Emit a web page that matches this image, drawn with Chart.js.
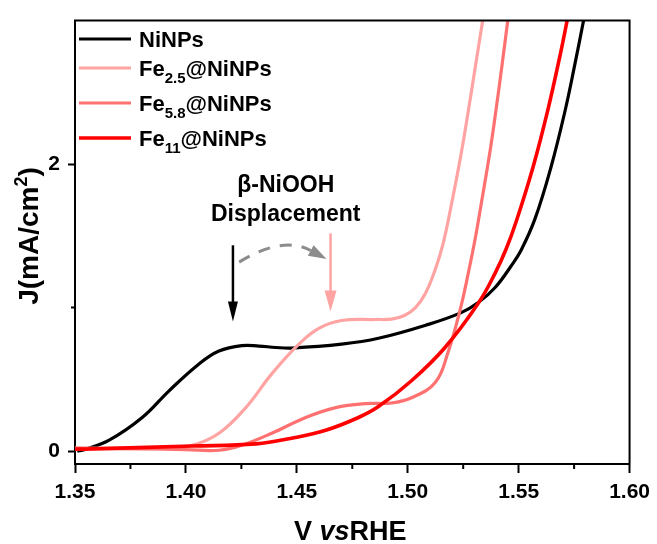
<!DOCTYPE html>
<html>
<head>
<meta charset="utf-8">
<script src="https://cdn.jsdelivr.net/npm/chart.js@4"></script>
<style>
  body { margin: 0; background: #fff; }
  #wrap { width: 657px; height: 544px; }
</style>
</head>
<body>
<div id="wrap"><canvas id="lsv" width="657" height="544"></canvas></div>
<script>
// Polarization curves (J vs potential)
const xTicks = [1.35, 1.40, 1.45, 1.50, 1.55, 1.60];
const xMinorTicks = [1.375, 1.425, 1.475, 1.525, 1.575];
const yTicks = [0, 2];
const yMinorTicks = [1];

const niV = [1.351, 1.3542, 1.3654, 1.3803, 1.3924, 1.4059, 1.4149, 1.4252, 1.4329, 1.4405, 1.4477, 1.4702, 1.4868, 1.5093, 1.5241, 1.5318, 1.5394, 1.5466, 1.5511, 1.5574, 1.5646, 1.5709, 1.5754, 1.579, 1.5805];
const niJ = [0.0, 0.01, 0.076, 0.234, 0.42, 0.607, 0.697, 0.735, 0.732, 0.722, 0.718, 0.745, 0.786, 0.883, 0.965, 1.035, 1.14, 1.29, 1.40, 1.62, 1.98, 2.37, 2.70, 2.98, 3.1];

const fe25V = [1.35, 1.37, 1.39, 1.4027, 1.4149, 1.427, 1.4387, 1.4509, 1.4599, 1.4702, 1.4855, 1.4927, 1.4985, 1.5035, 1.508, 1.5125, 1.516, 1.5192, 1.5237, 1.5273, 1.5309, 1.5345];
const fe25J = [0.02, 0.02, 0.024, 0.04, 0.124, 0.303, 0.538, 0.745, 0.855, 0.91, 0.917, 0.92, 0.945, 1.0, 1.10, 1.27, 1.45, 1.68, 2.04, 2.37, 2.72, 3.07];

const fe58V = [1.35, 1.38, 1.40, 1.4149, 1.4252, 1.4387, 1.454, 1.4675, 1.481, 1.4927, 1.5017, 1.5125, 1.518, 1.5237, 1.5273, 1.5304, 1.5331, 1.5372, 1.5399, 1.5426, 1.5455];
const fe58J = [0.02, 0.015, 0.01, 0.006, 0.041, 0.124, 0.234, 0.303, 0.331, 0.335, 0.372, 0.48, 0.68, 0.99, 1.24, 1.48, 1.72, 2.10, 2.39, 2.70, 3.05];

const fe11V = [1.35, 1.3542, 1.4027, 1.4316, 1.4477, 1.463, 1.4778, 1.4868, 1.5017, 1.5167, 1.5318, 1.5394, 1.5444, 1.5489, 1.5565, 1.5632, 1.5687, 1.5725];
const fe11J = [0.014, 0.014, 0.035, 0.05, 0.09, 0.145, 0.234, 0.31, 0.49, 0.72, 1.03, 1.24, 1.41, 1.60, 1.98, 2.38, 2.76, 3.05];

const seriesLabels = ['NiNPs', 'Fe2.5@NiNPs', 'Fe5.8@NiNPs', 'Fe11@NiNPs'];
// legend text split as [main, subscript, tail]
const legendParts = [['NiNPs', '', ''], ['Fe', '2.5', '@NiNPs'], ['Fe', '5.8', '@NiNPs'], ['Fe', '11', '@NiNPs']];
const seriesColors = ['#000000', '#ffa3a3', '#ff7070', '#ff0000'];
const seriesWidths = [3.2, 3.2, 3.2, 3.6];

const FONT = "'Liberation Sans', Arial, sans-serif";

function toPoints(xs, ys) {
    return xs.map((x, i) => ({ x: x, y: ys[i] }));
}

const seriesData = [
    toPoints(niV, niJ),
    toPoints(fe25V, fe25J),
    toPoints(fe58V, fe58J),
    toPoints(fe11V, fe11J)
];

// Frame, minor ticks, legend, axis titles and the displacement arrows
const decorations = {
    id: 'decorations',
    afterDraw(chart) {
        const ctx = chart.ctx;
        const area = chart.chartArea;
        const xs = chart.scales.x;
        const ys = chart.scales.y;
        ctx.save();

        // top and right spines
        ctx.strokeStyle = '#000';
        ctx.lineWidth = 2;
        ctx.beginPath();
        ctx.moveTo(area.left - 1, area.top);
        ctx.lineTo(area.right, area.top);
        ctx.lineTo(area.right, area.bottom + 1);
        ctx.stroke();

        // minor ticks
        ctx.beginPath();
        xMinorTicks.forEach(v => {
            const px = xs.getPixelForValue(v);
            ctx.moveTo(px, area.bottom);
            ctx.lineTo(px, area.bottom + 5);
        });
        yMinorTicks.forEach(v => {
            const py = ys.getPixelForValue(v);
            ctx.moveTo(area.left, py);
            ctx.lineTo(area.left - 4, py);
        });
        ctx.stroke();

        // legend
        const baselines = [47, 76, 111, 146];
        ctx.textBaseline = 'alphabetic';
        ctx.textAlign = 'left';
        legendParts.forEach((parts, i) => {
            const b = baselines[i];
            ctx.strokeStyle = seriesColors[i];
            ctx.lineWidth = seriesWidths[i];
            ctx.beginPath();
            ctx.moveTo(79, b - 8);
            ctx.lineTo(131, b - 8);
            ctx.stroke();
            ctx.fillStyle = '#000';
            let tx = 139;
            ctx.font = 'bold 22px ' + FONT;
            ctx.fillText(parts[0], tx, b);
            tx += ctx.measureText(parts[0]).width;
            if (parts[1]) {
                ctx.font = 'bold 15px ' + FONT;
                ctx.fillText(parts[1], tx, b + 7);
                tx += ctx.measureText(parts[1]).width;
                ctx.font = 'bold 22px ' + FONT;
                ctx.fillText(parts[2], tx, b);
            }
        });

        // x axis title: V vsRHE
        ctx.fillStyle = '#000';
        const xt = [['V ', 'bold '], ['vs', 'italic bold '], ['RHE', 'bold ']];
        let total = 0;
        xt.forEach(p => { ctx.font = p[1] + '27px ' + FONT; total += ctx.measureText(p[0]).width; });
        let cx = (area.left + area.right) / 2 - 2 - total / 2;
        xt.forEach(p => {
            ctx.font = p[1] + '27px ' + FONT;
            ctx.fillText(p[0], cx, 540);
            cx += ctx.measureText(p[0]).width;
        });

        // y axis title: J(mA/cm²)
        ctx.save();
        ctx.translate(38, 236);
        ctx.rotate(-Math.PI / 2);
        ctx.font = 'bold 28px ' + FONT;
        const a = 'J(mA/cm', c = ')';
        const wa = ctx.measureText(a).width;
        const wc = ctx.measureText(c).width;
        ctx.font = 'bold 18px ' + FONT;
        const wb = ctx.measureText('2').width;
        let sx = -(wa + wb + wc) / 2;
        ctx.font = 'bold 28px ' + FONT;
        ctx.fillText(a, sx, 0);
        sx += wa;
        ctx.font = 'bold 18px ' + FONT;
        ctx.fillText('2', sx, -11);
        sx += wb;
        ctx.font = 'bold 28px ' + FONT;
        ctx.fillText(c, sx, 0);
        ctx.restore();

        // annotation text
        ctx.textAlign = 'center';
        ctx.textBaseline = 'middle';
        ctx.font = 'bold 23px ' + FONT;
        ctx.fillText('\u03b2-NiOOH', xs.getPixelForValue(1.445), ys.getPixelForValue(1.848));
        ctx.fillText('Displacement', xs.getPixelForValue(1.445), ys.getPixelForValue(1.648));

        // vertical arrows marking the beta-NiOOH peak
        function arrow(v, j0, j1, color, headLen, headHalf) {
            const px = xs.getPixelForValue(v);
            const y0 = ys.getPixelForValue(j0);
            const y1 = ys.getPixelForValue(j1);
            ctx.strokeStyle = color;
            ctx.fillStyle = color;
            ctx.lineWidth = 2.5;
            ctx.beginPath();
            ctx.moveTo(px, y0);
            ctx.lineTo(px, y1 - headLen + 2);
            ctx.stroke();
            ctx.beginPath();
            ctx.moveTo(px, y1);
            ctx.lineTo(px - headHalf, y1 - headLen);
            ctx.lineTo(px + headHalf, y1 - headLen);
            ctx.closePath();
            ctx.fill();
        }
        arrow(1.4212, 1.434, 0.903, '#000', 20, 5);
        arrow(1.4652, 1.517, 0.972, '#ffa3a3', 21, 6);

        // dashed curved arrow between the two peaks
        const p0 = { x: xs.getPixelForValue(1.424), y: ys.getPixelForValue(1.317) };
        const pc = { x: xs.getPixelForValue(1.4437), y: ys.getPixelForValue(1.503) };
        const p1 = { x: xs.getPixelForValue(1.4634), y: ys.getPixelForValue(1.338) };
        const dx = p1.x - pc.x, dy = p1.y - pc.y;
        const len = Math.hypot(dx, dy);
        const ux = dx / len, uy = dy / len;
        const hl = 18, hw = 6;
        ctx.strokeStyle = '#8c8c8c';
        ctx.fillStyle = '#8c8c8c';
        ctx.lineWidth = 3;
        ctx.setLineDash([12, 10]);
        ctx.beginPath();
        ctx.moveTo(p0.x, p0.y);
        ctx.quadraticCurveTo(pc.x, pc.y, p1.x - ux * hl, p1.y - uy * hl);
        ctx.stroke();
        ctx.setLineDash([]);
        ctx.beginPath();
        ctx.moveTo(p1.x, p1.y);
        ctx.lineTo(p1.x - ux * hl - uy * hw, p1.y - uy * hl + ux * hw);
        ctx.lineTo(p1.x - ux * hl + uy * hw, p1.y - uy * hl - ux * hw);
        ctx.closePath();
        ctx.fill();

        ctx.restore();
    }
};

const ctx = document.getElementById('lsv').getContext('2d');
new Chart(ctx, {
    type: 'line',
    data: {
        datasets: seriesData.map((pts, i) => ({
            label: seriesLabels[i],
            data: pts,
            borderColor: seriesColors[i],
            borderWidth: seriesWidths[i],
            pointRadius: 0,
            fill: false,
            tension: 0.4
        })).reverse()
    },
    options: {
        responsive: false,
        animation: false,
        events: [],
        layout: { padding: { top: 15, right: 25, left: 0, bottom: 0 } },
        plugins: {
            legend: { display: false },
            tooltip: { enabled: false }
        },
        scales: {
            x: {
                type: 'linear',
                min: 1.35,
                max: 1.60,
                afterBuildTicks: scale => { scale.ticks = xTicks.map(v => ({ value: v })); },
                afterFit: scale => { scale.height = 80; },
                grid: { display: true, drawOnChartArea: false, tickLength: 9, tickColor: '#000', tickWidth: 2 },
                border: { display: true, color: '#000', width: 2 },
                ticks: {
                    color: '#000',
                    padding: 7,
                    maxRotation: 0,
                    font: { family: FONT, size: 21, weight: 'bold' },
                    callback: v => v.toFixed(2)
                }
            },
            y: {
                type: 'linear',
                min: -0.09,
                max: 3.0,
                afterBuildTicks: scale => { scale.ticks = yTicks.map(v => ({ value: v })); },
                afterFit: scale => { scale.width = 75; },
                grid: { display: true, drawOnChartArea: false, tickLength: 7, tickColor: '#000', tickWidth: 2 },
                border: { display: true, color: '#000', width: 2 },
                ticks: {
                    color: '#000',
                    padding: 8,
                    font: { family: FONT, size: 21, weight: 'bold' },
                    callback: v => String(v)
                }
            }
        }
    },
    plugins: [decorations]
});
</script>
</body>
</html>
